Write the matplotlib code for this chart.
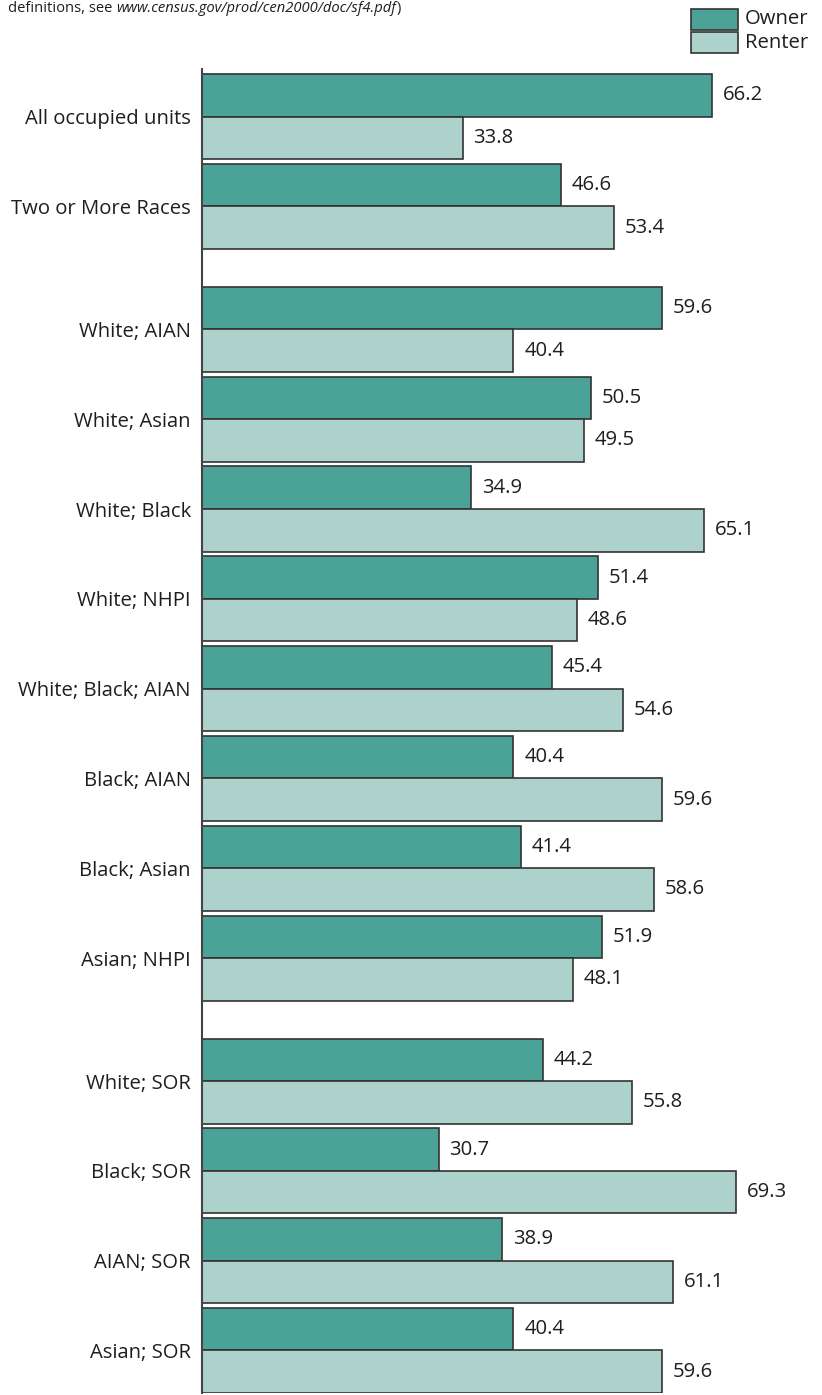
import matplotlib
matplotlib.use("Agg")
import matplotlib.pyplot as plt
from matplotlib.patches import Rectangle
import numpy as np

plt.rcParams["font.family"] = ["Open Sans", "DejaVu Sans"]

categories = [
    "All occupied units", "Two or More Races",
    "White; AIAN", "White; Asian", "White; Black", "White; NHPI",
    "White; Black; AIAN", "Black; AIAN", "Black; Asian", "Asian; NHPI",
    "White; SOR", "Black; SOR", "AIAN; SOR", "Asian; SOR",
]
section = [0, 0, 1, 1, 1, 1, 1, 1, 1, 1, 2, 2, 2, 2]
owner = [66.2, 46.6, 59.6, 50.5, 34.9, 51.4, 45.4, 40.4, 41.4, 51.9,
         44.2, 30.7, 38.9, 40.4]
renter = [33.8, 53.4, 40.4, 49.5, 65.1, 48.6, 54.6, 59.6, 58.6, 48.1,
          55.8, 69.3, 61.1, 59.6]
series = ["Owner", "Renter"]

OWNER_COLOR = "#4ba397"
RENTER_COLOR = "#add2cb"
EDGE = "#333333"
TXT = "#1e1e1e"
FS = 14.6

W, H = 822, 1395
fig = plt.figure(figsize=(W / 100, H / 100), dpi=100)

# axes box in pixels: left spine at x=202, from y=69 down to y=1393
px_per_unit = 7.71
xmax = 80
ax = fig.add_axes([202 / W, 2 / H, xmax * px_per_unit / W, (1393 - 69) / H])

pitch = 2.113
sec_gap = 0.78
centers = 1.12 + pitch * np.arange(len(categories)) + sec_gap * np.array(section)

ax.barh(centers - 0.5, owner, height=1.0, color=OWNER_COLOR, edgecolor=EDGE, linewidth=1.2)
ax.barh(centers + 0.5, renter, height=1.0, color=RENTER_COLOR, edgecolor=EDGE, linewidth=1.2)

for c, o, r in zip(centers, owner, renter):
    ax.text(o + 1.4, c - 0.5, f"{o:.1f}", va="center", ha="left", fontsize=FS, color=TXT)
    ax.text(r + 1.4, c + 0.5, f"{r:.1f}", va="center", ha="left", fontsize=FS, color=TXT)

ax.set_yticks(centers)
ax.set_yticklabels(categories, fontsize=FS, color=TXT)
ax.tick_params(axis="y", length=0, pad=8)
ax.set_xticks([])
ax.set_xlim(0, xmax)
ax.set_ylim(31.15, 0)
for s in ["top", "right", "bottom"]:
    ax.spines[s].set_visible(False)
ax.spines["left"].set_color("#444444")
ax.spines["left"].set_linewidth(1.5)

# legend boxes drawn in figure pixels (top right corner)
for i, (name, col) in enumerate(zip(series, [OWNER_COLOR, RENTER_COLOR])):
    top = 9 + 23 * i
    fig.patches.append(Rectangle((691 / W, 1 - (top + 21) / H), 47 / W, 21 / H,
                                 transform=fig.transFigure, facecolor=col,
                                 edgecolor=EDGE, linewidth=1.2))
    fig.text(745 / W, 1 - (top + 10.5) / H, name, fontsize=FS, color=TXT,
             va="center", ha="left")

# note line, cut off at the top edge
y_note = 1 - 12 / H
NOTE_FS = 10.6
t1 = fig.text(8 / W, y_note, "definitions, see ", fontsize=NOTE_FS, color=TXT, va="baseline")
fig.canvas.draw()
r = fig.canvas.get_renderer()
x = t1.get_window_extent(r).x1
t2 = fig.text(x / W, y_note, "www.census.gov/prod/cen2000/doc/sf4.pdf", fontsize=NOTE_FS,
              style="italic", color=TXT, va="baseline")
x = t2.get_window_extent(r).x1
fig.text(x / W, y_note, ")", fontsize=NOTE_FS, color=TXT, va="baseline")

fig.savefig("out.png", dpi=100)
